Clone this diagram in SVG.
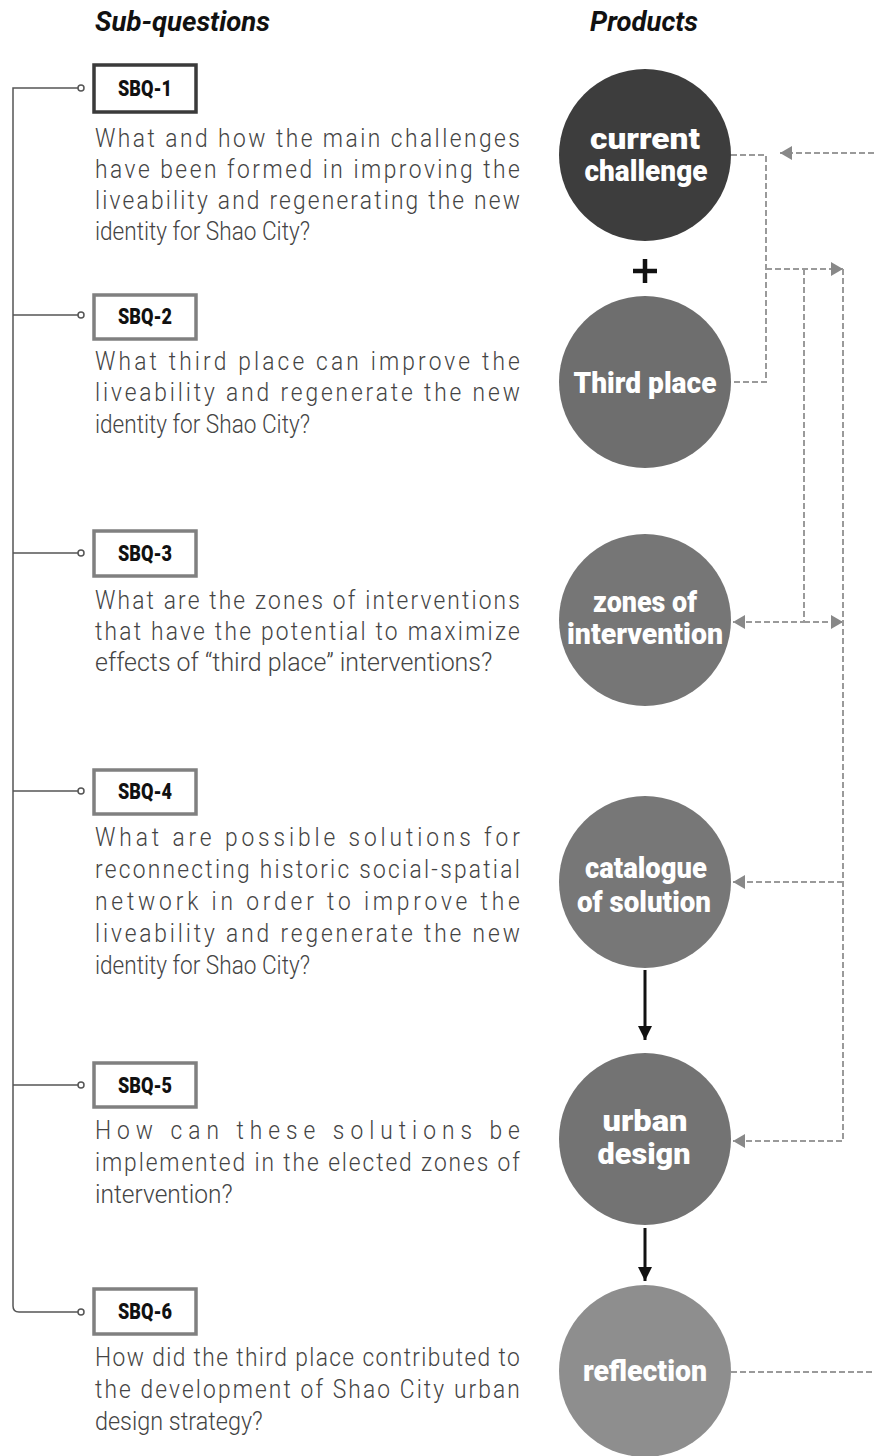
<svg xmlns="http://www.w3.org/2000/svg" width="874" height="1456" viewBox="0 0 874 1456">
<style>
.hdr{font-family:Roboto,"Liberation Sans",sans-serif;font-weight:700;font-style:italic;font-size:27px;fill:#111}
.q{font-family:Roboto,"Liberation Sans",sans-serif;font-weight:300;font-size:26.5px;fill:#444}
.lbl{font-family:Roboto,"Liberation Sans",sans-serif;font-weight:900;font-size:22px;fill:#111;text-anchor:middle}
.ct{font-family:Roboto,"Liberation Sans",sans-serif;font-weight:900;font-size:30px;fill:#fff;text-anchor:middle}
.box{fill:#fff;stroke:#808080;stroke-width:3.5}
.lead{fill:none;stroke:#555;stroke-width:1.5}
.dot{fill:#fff;stroke:#555;stroke-width:1.5}
.dash{fill:none;stroke:#9a9a9a;stroke-width:2;stroke-dasharray:6 3}
</style>
<defs>
<marker id="ah" viewBox="0 0 12 14" refX="12" refY="7" markerWidth="12" markerHeight="14" markerUnits="userSpaceOnUse" orient="auto">
<path d="M0,0 L12,7 L0,14 z" fill="#888"/>
</marker>
<marker id="bh" viewBox="0 0 14 14" refX="14" refY="7" markerWidth="14" markerHeight="14" markerUnits="userSpaceOnUse" orient="auto">
<path d="M0,0 L14,7 L0,14 z" fill="#111"/>
</marker>
</defs>
<rect width="874" height="1456" fill="#fff"/>
<text class="hdr" x="95" y="31" textLength="175" lengthAdjust="spacingAndGlyphs">Sub-questions</text>
<text class="hdr" x="590" y="31" textLength="108" lengthAdjust="spacingAndGlyphs">Products</text>

<g id="connectors">
<path class="lead" d="M78,88 H13 V1306 Q13,1312 19,1312 H78" stroke="#666" stroke-width="2"/>
<path class="lead" d="M13,315 H78 M13,553 H78 M13,791 H78 M13,1085 H78"/>
<circle class="dot" cx="81" cy="88" r="3"/>
<circle class="dot" cx="81" cy="315" r="3"/>
<circle class="dot" cx="81" cy="553" r="3"/>
<circle class="dot" cx="81" cy="791" r="3"/>
<circle class="dot" cx="81" cy="1085" r="3"/>
<circle class="dot" cx="81" cy="1312" r="3"/>
<path class="dash" d="M731,155 H766 V382 H731"/>
<path class="dash" d="M766,269 H843" marker-end="url(#ah)"/>
<path class="dash" d="M804,269 V622 H733" marker-end="url(#ah)"/>
<path class="dash" d="M804,622 H843" marker-end="url(#ah)"/>
<path class="dash" d="M843,269 V1141 H733" marker-end="url(#ah)"/>
<path class="dash" d="M843,882 H733" marker-end="url(#ah)"/>
<path class="dash" d="M874,153 H780" marker-end="url(#ah)"/>
<path class="dash" d="M731,1372 H874"/>
<path d="M645,970 V1040" stroke="#111" stroke-width="3" marker-end="url(#bh)"/>
<path d="M645,1228 V1281" stroke="#111" stroke-width="3" marker-end="url(#bh)"/>
<path d="M645,259 V283 M633,271 H657" stroke="#111" stroke-width="4.5"/>
</g>

<g id="sbq1">
<rect x="94" y="65" width="102" height="47" fill="#fff" stroke="#3a3a3a" stroke-width="3.5"/>
<text class="lbl" x="145" y="96" textLength="54" lengthAdjust="spacingAndGlyphs">SBQ-1</text>
<g transform="scale(0.86,1)">
<text class="q" x="110.47" y="147" textLength="494" lengthAdjust="spacing">What and how the main challenges</text>
<text class="q" x="110.47" y="178" textLength="494" lengthAdjust="spacing">have been formed in improving the</text>
<text class="q" x="110.47" y="209" textLength="494" lengthAdjust="spacing">liveability and regenerating the new</text>
<text class="q" x="110.47" y="240" textLength="250" lengthAdjust="spacingAndGlyphs">identity for Shao City?</text>
</g>
</g>
<g id="sbq2">
<rect class="box" x="94" y="295" width="102" height="44"/>
<text class="lbl" x="145" y="324" textLength="54" lengthAdjust="spacingAndGlyphs">SBQ-2</text>
<g transform="scale(0.86,1)">
<text class="q" x="110.47" y="370" textLength="494" lengthAdjust="spacing">What third place can improve the</text>
<text class="q" x="110.47" y="401" textLength="494" lengthAdjust="spacing">liveability and regenerate the new</text>
<text class="q" x="110.47" y="433" textLength="250" lengthAdjust="spacingAndGlyphs">identity for Shao City?</text>
</g>
</g>
<g id="sbq3">
<rect class="box" x="94" y="531" width="102" height="45"/>
<text class="lbl" x="145" y="561" textLength="54" lengthAdjust="spacingAndGlyphs">SBQ-3</text>
<g transform="scale(0.86,1)">
<text class="q" x="110.47" y="609" textLength="494" lengthAdjust="spacing">What are the zones of interventions</text>
<text class="q" x="110.47" y="640" textLength="494" lengthAdjust="spacing">that have the potential to maximize</text>
<text class="q" x="110.47" y="671" textLength="462" lengthAdjust="spacingAndGlyphs">effects of “third place” interventions?</text>
</g>
</g>
<g id="sbq4">
<rect class="box" x="94" y="770" width="102" height="44"/>
<text class="lbl" x="145" y="799" textLength="54" lengthAdjust="spacingAndGlyphs">SBQ-4</text>
<g transform="scale(0.86,1)">
<text class="q" x="110.47" y="846" textLength="494" lengthAdjust="spacing">What are possible solutions  for</text>
<text class="q" x="110.47" y="878" textLength="494" lengthAdjust="spacing">reconnecting historic social-spatial</text>
<text class="q" x="110.47" y="910" textLength="494" lengthAdjust="spacing">network in order to improve the</text>
<text class="q" x="110.47" y="942" textLength="494" lengthAdjust="spacing">liveability and regenerate the new</text>
<text class="q" x="110.47" y="974" textLength="250" lengthAdjust="spacingAndGlyphs">identity for Shao City?</text>
</g>
</g>
<g id="sbq5">
<rect class="box" x="94" y="1063" width="102" height="44"/>
<text class="lbl" x="145" y="1093" textLength="54" lengthAdjust="spacingAndGlyphs">SBQ-5</text>
<g transform="scale(0.86,1)">
<text class="q" x="110.47" y="1139" textLength="494" lengthAdjust="spacing">How can these solutions be</text>
<text class="q" x="110.47" y="1171" textLength="494" lengthAdjust="spacing">implemented in the elected zones of</text>
<text class="q" x="110.47" y="1203" textLength="160" lengthAdjust="spacingAndGlyphs">intervention?</text>
</g>
</g>
<g id="sbq6">
<rect class="box" x="94" y="1289" width="102" height="45"/>
<text class="lbl" x="145" y="1319" textLength="54" lengthAdjust="spacingAndGlyphs">SBQ-6</text>
<g transform="scale(0.86,1)">
<text class="q" x="110.47" y="1366" textLength="494" lengthAdjust="spacing">How did the third place contributed to</text>
<text class="q" x="110.47" y="1398" textLength="494" lengthAdjust="spacing">the development of Shao City urban</text>
<text class="q" x="110.47" y="1430" textLength="195" lengthAdjust="spacingAndGlyphs">design strategy?</text>
</g>
</g>

<g id="p1">
<circle cx="645" cy="155" r="86" fill="#3d3d3d"/>
<text class="ct" x="645" y="149" textLength="110" lengthAdjust="spacingAndGlyphs">current</text>
<text class="ct" x="646" y="181" textLength="123" lengthAdjust="spacingAndGlyphs">challenge</text>
</g>
<g id="p2">
<circle cx="645" cy="382" r="86" fill="#6e6e6e"/>
<text class="ct" x="645" y="393" textLength="143" lengthAdjust="spacingAndGlyphs">Third place</text>
</g>
<g id="p3">
<circle cx="645" cy="620" r="86" fill="#767676"/>
<text class="ct" x="645" y="612" textLength="104" lengthAdjust="spacingAndGlyphs">zones of</text>
<text class="ct" x="645" y="644" textLength="156" lengthAdjust="spacingAndGlyphs">intervention</text>
</g>
<g id="p4">
<circle cx="645" cy="882" r="86" fill="#777"/>
<text class="ct" x="646" y="878" textLength="122" lengthAdjust="spacingAndGlyphs">catalogue</text>
<text class="ct" x="644" y="912" textLength="134" lengthAdjust="spacingAndGlyphs">of solution</text>
</g>
<g id="p5">
<circle cx="645" cy="1139" r="86" fill="#737373"/>
<text class="ct" x="645" y="1131" textLength="85" lengthAdjust="spacingAndGlyphs">urban</text>
<text class="ct" x="644" y="1164" textLength="93" lengthAdjust="spacingAndGlyphs">design</text>
</g>
<g id="p6">
<circle cx="645" cy="1371" r="86" fill="#8e8e8e"/>
<text class="ct" x="645" y="1381" textLength="124" lengthAdjust="spacingAndGlyphs">reflection</text>
</g>
</svg>
